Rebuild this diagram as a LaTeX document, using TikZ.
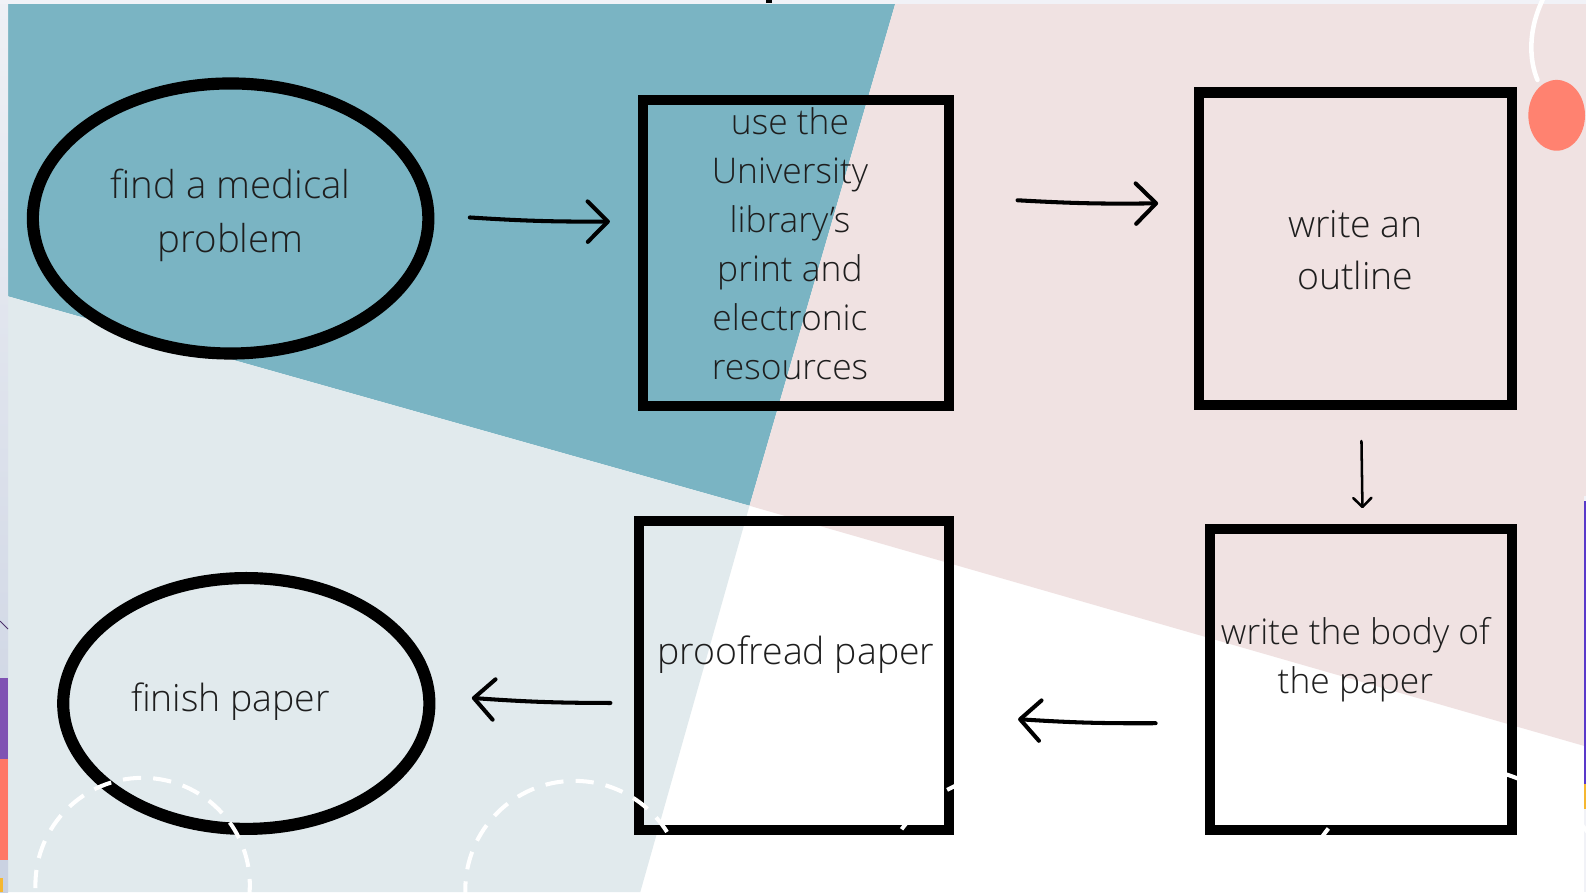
\documentclass[tikz,border=0pt]{standalone}
\usepackage{fontspec}
\IfFontExistsTF{Open Sans Light}{\setmainfont{Open Sans Light}}{\setmainfont{Open Sans}}
\usetikzlibrary{arrows.meta,shapes.geometric}
\definecolor{tealbg}{HTML}{7AB4C3}
\definecolor{pinkbg}{HTML}{F0E2E2}
\definecolor{greybg}{HTML}{E1EAED}
\definecolor{coraldot}{HTML}{FF8270}
\definecolor{stripT}{HTML}{F1F2F7}
\definecolor{stripLa}{HTML}{EEF0F5}
\definecolor{stripLb}{HTML}{C9D1E1}
\definecolor{purp}{HTML}{7F52B3}
\definecolor{coralstrip}{HTML}{FF7766}
\definecolor{yel}{HTML}{F5B731}
\definecolor{txt}{HTML}{1E1E1E}
\begin{document}
\begin{tikzpicture}[x=1pt,y=-1pt,
  ell/.style={ellipse, draw=black, line width=12pt, inner sep=0pt, outer sep=0pt},
  stepbox/.style={rectangle, draw=black, line width=10pt, inner sep=0pt, outer sep=0pt},
  lbl/.style={text=txt, align=center, font=\fontsize{35}{48.5}\selectfont},
  lblbig/.style={text=txt, align=center, font=\fontsize{38}{54}\selectfont},
  hand/.style={line width=4pt, line cap=round, -{Straight Barb[length=20pt,width=40pt,round]}},
  handthin/.style={line width=2.5pt, line cap=round, -{Straight Barb[length=9pt,width=18pt,round]}},
  dashring/.style={white, line width=4pt, dash pattern=on 18pt off 12pt}]
\useasboundingbox (0,0) rectangle (1568,882);
\clip (0,0) rectangle (1568,882);
% background regions
\fill[white] (0,0) rectangle (1568,882);
\fill[tealbg] (8,4) -- (885,4) -- (741,500) -- (8,293) -- cycle;
\fill[pinkbg] (885,4) -- (1568,4) -- (1568,738) -- (741,500) -- cycle;
\fill[greybg] (8,293) -- (741,500) -- (633,882) -- (8,882) -- cycle;
% outer strips
\fill[stripT] (0,0) rectangle (1568,4);
\shade[top color=stripLa, bottom color=stripLb] (0,4) rectangle (8,882);
\fill[purp] (0,670) rectangle (8,750);
\fill[coralstrip] (0,750) rectangle (8,850);
\fill[yel] (0,868) rectangle (3,882);
\draw[purp!60!black, line width=0.8pt] (0,614) -- (8,622);
\fill[stripT] (1566,490) rectangle (1568,882);
\fill[purp!70!blue] (1566,495) rectangle (1568,775);
\fill[yel] (1566,775) rectangle (1568,800);
\fill[black] (757,0) rectangle (763,3);
% coral dot and white curve
\fill[coraldot] (1539,114) ellipse [x radius=28, y radius=35];
\draw[white, line width=4.5pt, line cap=round] (1526,-2) .. controls (1510,30) and (1512,60) .. (1520,79);
% nodes
\node[ell, minimum width=391pt, minimum height=267pt] (n1) at (228,216) {};
\node[lblbig] (t1) at (228,213) {find a medical\\problem};
\node[stepbox, minimum width=303pt, minimum height=303pt] (n2) at (787,250) {};
\node[lbl] (t2) at (781,241) {use the\\University\\library’s\\print and\\electronic\\resources};
\node[stepbox, minimum width=309pt, minimum height=309pt] (n3) at (1340,246) {};
\node[lbl, font=\fontsize{37}{51}\selectfont] (t3) at (1340,247) {write an\\outline};
\node[stepbox, minimum width=299pt, minimum height=298pt] (n4) at (1345.5,672) {};
\node[lbl, font=\fontsize{35}{48}\selectfont] (t4) at (1340,652) {write the body of\\the paper};
\node[stepbox, minimum width=306pt, minimum height=306pt] (n5) at (785,668) {};
\node[lbl, font=\fontsize{37}{50}\selectfont] (t5) at (787,647) {proofread paper};
\node[ell, minimum width=362pt, minimum height=248pt] (n6) at (243.5,695.5) {};
\node[lblbig, font=\fontsize{37}{50}\selectfont] (t6) at (228,694) {finish paper};
% connectors
\draw[hand] ([xshift=41pt,yshift=1pt]n1.east) to[bend right=2] ([xshift=-32.5pt,yshift=31pt]n2.west);
\draw[hand] ([xshift=67.5pt,yshift=52pt]n2.east) to[bend right=2] ([xshift=-40.5pt,yshift=45pt]n3.west);
\draw[handthin] ([xshift=6pt,yshift=-35.5pt]n3.south) -- ([xshift=1.5pt,yshift=20.5pt]n4.north);
\draw[hand] ([xshift=-53.5pt,yshift=-43pt]n4.west) to[bend left=2] ([xshift=68.5pt,yshift=-43pt]n5.east);
\draw[hand] ([xshift=-28.5pt,yshift=-27pt]n5.west) to[bend left=2] ([xshift=42pt,yshift=5.5pt]n6.east);
% dashed white rings
\draw[dashring] (141,875) circle [radius=106];
\draw[dashring] (568,880) circle [radius=108];
\draw[dashring] (1000,900) circle [radius=135];
\draw[dashring] (1440,920) circle [radius=162];
\end{tikzpicture}
\end{document}
